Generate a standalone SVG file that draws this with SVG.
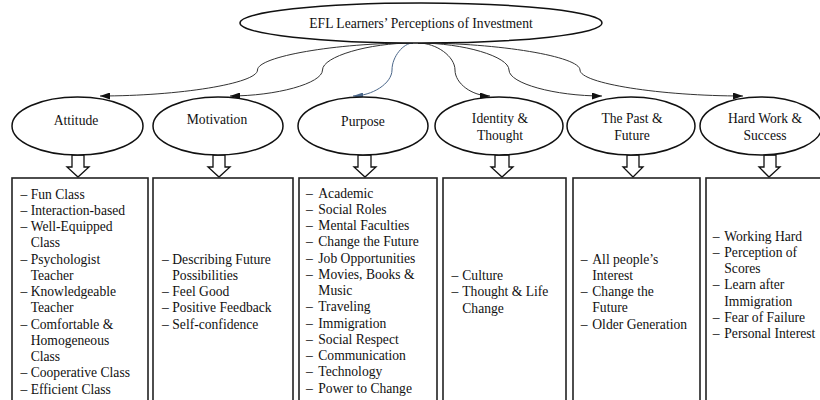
<svg xmlns="http://www.w3.org/2000/svg" width="820" height="400" viewBox="0 0 820 400">
<style>
text{font-family:"Liberation Serif","Times New Roman",serif;font-size:13.6px;fill:#111}
.c{text-anchor:middle}
.ell{fill:#fff;stroke:#111;stroke-width:1.5}
.box{fill:#fff;stroke:#222;stroke-width:1.6}
.cur{fill:none;stroke:#333;stroke-width:1}
.blue{stroke:#4a6689}
.blk{fill:#fff;stroke:#111;stroke-width:1.3;stroke-linejoin:miter}
</style>
<defs>
<marker id="ah" viewBox="0 0 10 7" refX="10" refY="3.5" markerUnits="userSpaceOnUse" markerWidth="10" markerHeight="7" orient="auto"><path d="M0,0 L10,3.5 L0,7 z" fill="#111"/></marker>
<marker id="ahb" viewBox="0 0 10 7" refX="10" refY="3.5" markerUnits="userSpaceOnUse" markerWidth="10" markerHeight="7" orient="auto"><path d="M0,0 L10,3.5 L0,7 z" fill="#4a6689"/></marker>
</defs>
<rect width="820" height="400" fill="#fff"/>

<g id="connectors">
<path class="cur" d="M413,43 C336,43 257.5,56.5 257.5,70 C257.5,83.5 179,96 100,96" marker-end="url(#ah)"/>
<path class="cur" d="M413,43 C369,43 322.5,56.5 322.5,70 C322.5,83.5 276,96 230,96" marker-end="url(#ah)"/>
<path class="cur blue" d="M413,43 C403.5,43 392,56.5 392,70 C392,83.5 372,96 353,96" marker-end="url(#ahb)"/>
<path class="cur" d="M418,43 C436.5,43 455,56.5 455,70 C455,83.5 472,96 490,96" marker-end="url(#ah)"/>
<path class="cur" d="M418,43 C463.5,43 509,56.5 509,70 C509,83.5 555,96 602,96" marker-end="url(#ah)"/>
<path class="cur" d="M418,43 C499,43 580,56.5 580,70 C580,83.5 661,96 743,96" marker-end="url(#ah)"/>
<path class="blk" d="M72,155 L84,155 L84,167 L89,167 L78,177 L67,167 L72,167 Z"/>
<path class="blk" d="M213,155 L225,155 L225,167 L230,167 L219,177 L208,167 L213,167 Z"/>
<path class="blk" d="M358,155 L371,155 L371,167 L376,167 L365,177 L354,167 L358,167 Z"/>
<path class="blk" d="M495,155 L509,155 L509,167 L513,167 L502,177 L491,167 L495,167 Z"/>
<path class="blk" d="M627,155 L639,155 L639,167 L643,167 L633,177 L623,167 L627,167 Z"/>
<path class="blk" d="M764,155 L776,155 L776,167 L780,167 L769,177 L759,167 L764,167 Z"/>
</g>

<g id="root">
<ellipse class="ell" cx="421" cy="23" rx="181" ry="20"/>
<text class="c" x="421" y="27.5">EFL Learners’ Perceptions of Investment</text>
</g>

<g id="attitude">
<ellipse class="ell" cx="77.5" cy="126" rx="65.5" ry="29"/>
<text class="c" x="76" y="124.5">Attitude</text>
</g>
<g id="motivation">
<ellipse class="ell" cx="218" cy="126" rx="65" ry="29"/>
<text class="c" x="217" y="123.5">Motivation</text>
</g>
<g id="purpose">
<ellipse class="ell" cx="363" cy="126" rx="65" ry="29"/>
<text class="c" x="363" y="125.5">Purpose</text>
</g>
<g id="identity">
<ellipse class="ell" cx="499" cy="126" rx="64" ry="29"/>
<text class="c" x="500" y="122.5">Identity &amp;</text>
<text class="c" x="500" y="139.5">Thought</text>
</g>
<g id="pastfuture">
<ellipse class="ell" cx="631" cy="126" rx="64" ry="29"/>
<text class="c" x="632" y="122.5">The Past &amp;</text>
<text class="c" x="632" y="139.5">Future</text>
</g>
<g id="hardwork">
<ellipse class="ell" cx="761" cy="126" rx="61" ry="29"/>
<text class="c" x="765" y="122.5">Hard Work &amp;</text>
<text class="c" x="765" y="139.5">Success</text>
</g>

<g id="attitude-box">
<rect class="box" x="12" y="178" width="136" height="240"/>
<text>
<tspan x="20.5" y="198.5">–</tspan><tspan x="30.7">Fun Class</tspan>
<tspan x="20.5" y="214.8">–</tspan><tspan x="30.7">Interaction-based</tspan>
<tspan x="20.5" y="231">–</tspan><tspan x="30.7">Well-Equipped</tspan>
<tspan x="30.7" y="247.3">Class</tspan>
<tspan x="20.5" y="263.5">–</tspan><tspan x="30.7">Psychologist</tspan>
<tspan x="30.7" y="279.8">Teacher</tspan>
<tspan x="20.5" y="296">–</tspan><tspan x="30.7">Knowledgeable</tspan>
<tspan x="30.7" y="312.3">Teacher</tspan>
<tspan x="20.5" y="328.5">–</tspan><tspan x="30.7">Comfortable &amp;</tspan>
<tspan x="30.7" y="344.8">Homogeneous</tspan>
<tspan x="30.7" y="361">Class</tspan>
<tspan x="20.5" y="377.3">–</tspan><tspan x="30.7">Cooperative Class</tspan>
<tspan x="20.5" y="393.5">–</tspan><tspan x="30.7">Efficient Class</tspan>
</text>
</g>

<g id="motivation-box">
<rect class="box" x="153" y="178" width="140" height="240"/>
<text>
<tspan x="162" y="263.5">–</tspan><tspan x="172.3">Describing Future</tspan>
<tspan x="172.3" y="279.8">Possibilities</tspan>
<tspan x="162" y="296">–</tspan><tspan x="172.3">Feel Good</tspan>
<tspan x="162" y="312.3">–</tspan><tspan x="172.3">Positive Feedback</tspan>
<tspan x="162" y="328.5">–</tspan><tspan x="172.3">Self-confidence</tspan>
</text>
</g>

<g id="purpose-box">
<rect class="box" x="299" y="178" width="138" height="240"/>
<text>
<tspan x="306" y="197.5">–</tspan><tspan x="318.3">Academic</tspan>
<tspan x="306" y="213.8">–</tspan><tspan x="318.3">Social Roles</tspan>
<tspan x="306" y="230">–</tspan><tspan x="318.3">Mental Faculties</tspan>
<tspan x="306" y="246.3">–</tspan><tspan x="318.3">Change the Future</tspan>
<tspan x="306" y="262.5">–</tspan><tspan x="318.3">Job Opportunities</tspan>
<tspan x="306" y="278.8">–</tspan><tspan x="318.3">Movies, Books &amp;</tspan>
<tspan x="318.3" y="295">Music</tspan>
<tspan x="306" y="311.3">–</tspan><tspan x="318.3">Traveling</tspan>
<tspan x="306" y="327.5">–</tspan><tspan x="318.3">Immigration</tspan>
<tspan x="306" y="343.8">–</tspan><tspan x="318.3">Social Respect</tspan>
<tspan x="306" y="360">–</tspan><tspan x="318.3">Communication</tspan>
<tspan x="306" y="376.3">–</tspan><tspan x="318.3">Technology</tspan>
<tspan x="306" y="392.5">–</tspan><tspan x="318.3">Power to Change</tspan>
</text>
</g>

<g id="identity-box">
<rect class="box" x="443" y="178" width="123" height="240"/>
<text>
<tspan x="451.5" y="280">–</tspan><tspan x="462.3">Culture</tspan>
<tspan x="451.5" y="296.3">–</tspan><tspan x="462.3">Thought &amp; Life</tspan>
<tspan x="462.3" y="312.5">Change</tspan>
</text>
</g>

<g id="pastfuture-box">
<rect class="box" x="573" y="178" width="127" height="240"/>
<text>
<tspan x="580.7" y="263.5">–</tspan><tspan x="592.3">All people’s</tspan>
<tspan x="592.3" y="279.8">Interest</tspan>
<tspan x="580.7" y="296">–</tspan><tspan x="592.3">Change the</tspan>
<tspan x="592.3" y="312.3">Future</tspan>
<tspan x="580.7" y="328.5">–</tspan><tspan x="592.3">Older Generation</tspan>
</text>
</g>

<g id="hardwork-box">
<rect class="box" x="706" y="178" width="130" height="240"/>
<text>
<tspan x="712.7" y="240.5">–</tspan><tspan x="724.3">Working Hard</tspan>
<tspan x="712.7" y="256.8">–</tspan><tspan x="724.3">Perception of</tspan>
<tspan x="724.3" y="273">Scores</tspan>
<tspan x="712.7" y="289.3">–</tspan><tspan x="724.3">Learn after</tspan>
<tspan x="724.3" y="305.5">Immigration</tspan>
<tspan x="712.7" y="321.8">–</tspan><tspan x="724.3">Fear of Failure</tspan>
<tspan x="712.7" y="338">–</tspan><tspan x="724.3">Personal Interest</tspan>
</text>
</g>
</svg>
